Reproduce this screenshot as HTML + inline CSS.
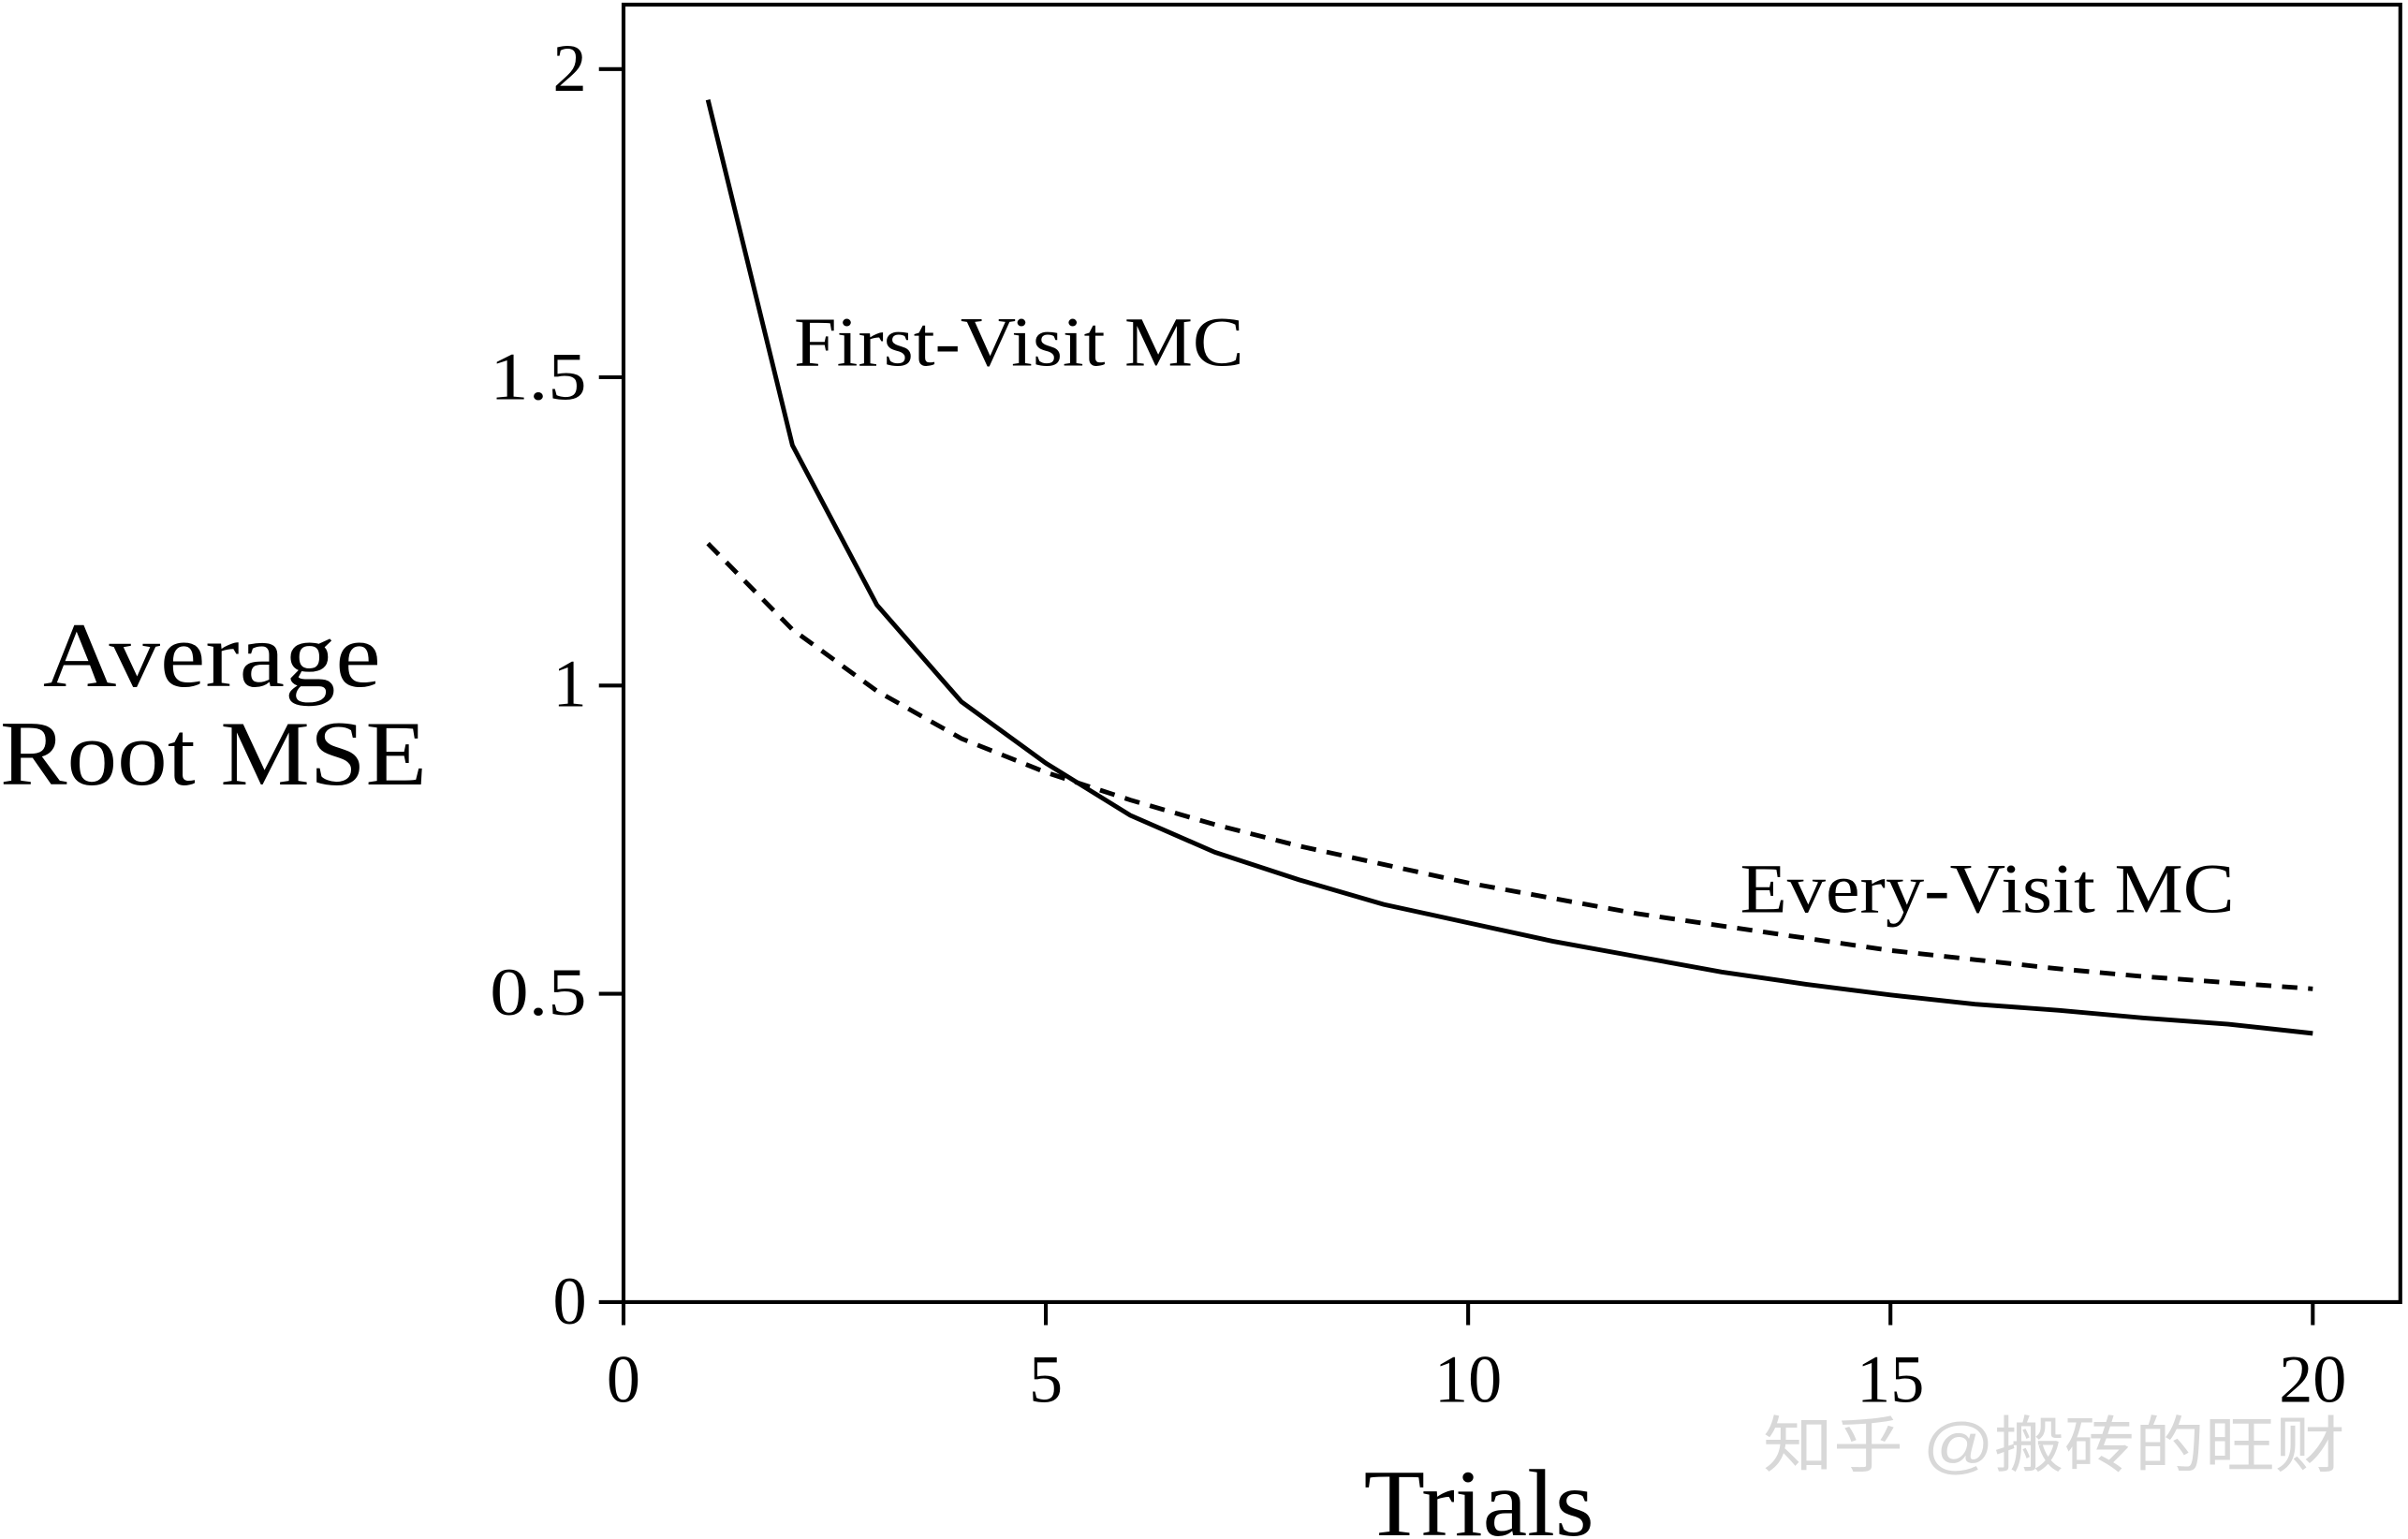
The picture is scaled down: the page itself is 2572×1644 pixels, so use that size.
<!DOCTYPE html>
<html><head><meta charset="utf-8"><style>
html,body{margin:0;padding:0;background:#fff;}
svg{display:block;}
text{font-family:"Liberation Serif",serif;fill:#000;}
</style></head><body>
<svg width="2572" height="1644" viewBox="0 0 1568 1002.3" preserveAspectRatio="none" xmlns="http://www.w3.org/2000/svg">
<rect x="406" y="3" width="1157" height="845" fill="none" stroke="#000" stroke-width="2.5"/>
<g stroke="#000" stroke-width="2.5">
<line x1="390" y1="848" x2="406" y2="848"/>
<line x1="390" y1="647.2" x2="406" y2="647.2"/>
<line x1="390" y1="446.5" x2="406" y2="446.5"/>
<line x1="390" y1="245.7" x2="406" y2="245.7"/>
<line x1="390" y1="45" x2="406" y2="45"/>
<line x1="406" y1="848" x2="406" y2="863"/>
<line x1="681" y1="848" x2="681" y2="863"/>
<line x1="956" y1="848" x2="956" y2="863"/>
<line x1="1231" y1="848" x2="1231" y2="863"/>
<line x1="1506" y1="848" x2="1506" y2="863"/>
</g>
<g font-size="44" text-anchor="end">
<text x="382" y="862">0</text>
<text x="382" y="661" textLength="63" lengthAdjust="spacingAndGlyphs">0.5</text>
<text x="382" y="460">1</text>
<text x="382" y="260" textLength="63" lengthAdjust="spacingAndGlyphs">1.5</text>
<text x="382" y="59">2</text>
</g>
<g font-size="44" text-anchor="middle">
<text x="406" y="913">0</text>
<text x="681" y="913">5</text>
<text x="956" y="913">10</text>
<text x="1231" y="913">15</text>
<text x="1506" y="913">20</text>
</g>
<polyline fill="none" stroke="#000" stroke-width="3" points="461,65 516,290 571,394 626,457 681,497 736,531 791,555 846,573 901,589 956,601 1011,613 1066,623 1121,633 1176,641 1231,648 1286,654 1341,658 1396,663 1451,667 1506,673"/>
<polyline fill="none" stroke="#000" stroke-width="3" stroke-dasharray="10,7" points="461,354 516,410 571,450 626,481 681,503 736,521 791,537 846,551 901,563 956,575 1011,585 1066,595 1121,603 1176,611 1231,619 1286,625 1341,631 1396,636 1451,640 1506,644"/>
<text x="517" y="238" font-size="46" textLength="293" lengthAdjust="spacingAndGlyphs">First-Visit MC</text>
<text x="1133" y="594" font-size="46" textLength="322" lengthAdjust="spacingAndGlyphs">Every-Visit MC</text>
<text x="28" y="447" font-size="60" textLength="220" lengthAdjust="spacingAndGlyphs">Average</text>
<text x="0" y="511" font-size="60" textLength="278" lengthAdjust="spacingAndGlyphs">Root MSE</text>
<text x="888" y="1000" font-size="62" textLength="150" lengthAdjust="spacingAndGlyphs">Trials</text>
<text x="1148" y="955" font-size="40" textLength="379" lengthAdjust="spacingAndGlyphs" style="font-family:'Liberation Sans','Noto Sans CJK SC',sans-serif;fill:#d8d8d8">知乎 @搬砖的旺财</text>
</svg>
</body></html>
